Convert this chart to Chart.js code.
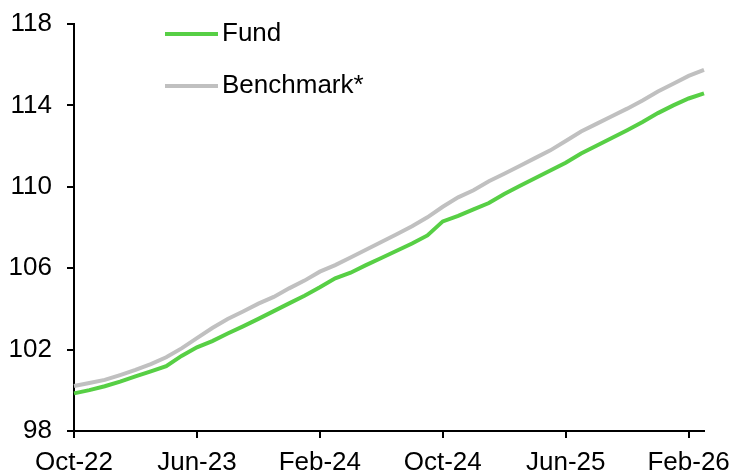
<!DOCTYPE html>
<html>
<head>
<meta charset="utf-8">
<script src="https://cdn.jsdelivr.net/npm/chart.js@4/dist/chart.umd.min.js"></script>
<style>
  body { margin: 0; background: #fff; }
  #wrap { width: 735px; height: 476px; }
</style>
</head>
<body>
<div id="wrap"><canvas id="perfChart" width="735" height="476"></canvas></div>
<script>
// monthly points, Oct-22 .. Mar-26
const months = [
  'Oct-22', 'Nov-22', 'Dec-22', 'Jan-23', 'Feb-23', 'Mar-23', 'Apr-23', 'May-23',
  'Jun-23', 'Jul-23', 'Aug-23', 'Sep-23', 'Oct-23', 'Nov-23', 'Dec-23', 'Jan-24',
  'Feb-24', 'Mar-24', 'Apr-24', 'May-24', 'Jun-24', 'Jul-24', 'Aug-24', 'Sep-24',
  'Oct-24', 'Nov-24', 'Dec-24', 'Jan-25', 'Feb-25', 'Mar-25', 'Apr-25', 'May-25',
  'Jun-25', 'Jul-25', 'Aug-25', 'Sep-25', 'Oct-25', 'Nov-25', 'Dec-25', 'Jan-26',
  'Feb-26', 'Mar-26',
];
const tickLabels = ['Oct-22', 'Jun-23', 'Feb-24', 'Oct-24', 'Jun-25', 'Feb-26'];

const fund = [
  99.85, 100.01, 100.20, 100.43, 100.68, 100.93, 101.19, 101.69,
  102.11, 102.42, 102.79, 103.14, 103.51, 103.89, 104.27, 104.65,
  105.06, 105.50, 105.78, 106.15, 106.50, 106.86, 107.21, 107.61,
  108.30, 108.57, 108.89, 109.20, 109.65, 110.04, 110.42, 110.80,
  111.18, 111.64, 112.02, 112.40, 112.78, 113.18, 113.62, 114.00,
  114.34, 114.59,
];
const benchmark = [
  100.21, 100.36, 100.51, 100.75, 101.00, 101.29, 101.62, 102.06,
  102.56, 103.06, 103.50, 103.87, 104.26, 104.59, 105.01, 105.39,
  105.83, 106.15, 106.53, 106.91, 107.29, 107.67, 108.06, 108.50,
  109.02, 109.48, 109.83, 110.27, 110.64, 111.02, 111.41, 111.79,
  112.25, 112.72, 113.09, 113.47, 113.84, 114.24, 114.68, 115.06,
  115.45, 115.74,
];

Chart.defaults.font.family = "'Liberation Sans', Arial, sans-serif";
Chart.defaults.font.size = 26;
Chart.defaults.color = '#000';

// legend drawn as a stacked list inside the plot, like the original
const stackedLegend = {
  id: 'stackedLegend',
  afterDraw(chart) {
    const ctx = chart.ctx;
    const rows = [34, 86];
    ctx.save();
    chart.data.datasets.forEach((ds, i) => {
      const y = rows[i];
      ctx.strokeStyle = ds.borderColor;
      ctx.lineWidth = 4;
      ctx.beginPath();
      ctx.moveTo(165, y);
      ctx.lineTo(218, y);
      ctx.stroke();
      ctx.fillStyle = '#000';
      ctx.font = "26px 'Liberation Sans', Arial, sans-serif";
      ctx.textBaseline = 'middle';
      ctx.fillText(ds.label, 222, y);
    });
    ctx.restore();
  },
};

const ctx = document.getElementById('perfChart').getContext('2d');
new Chart(ctx, {
  type: 'line',
  data: {
    labels: months,
    datasets: [
      {
        label: 'Fund',
        data: fund,
        borderColor: '#57cf45',
        borderWidth: 4,
        pointRadius: 0,
        tension: 0,
      },
      {
        label: 'Benchmark*',
        data: benchmark,
        borderColor: '#c0c0c0',
        borderWidth: 4,
        pointRadius: 0,
        tension: 0,
      },
    ],
  },
  options: {
    responsive: false,
    animation: false,
    layout: { padding: { top: 24, right: 31, left: 0, bottom: 0 } },
    plugins: {
      legend: { display: false },
      tooltip: { enabled: false },
    },
    scales: {
      x: {
        offset: false,
        afterFit: (s) => {
          s.height = 45;
          s.paddingLeft = 0;
          s.paddingRight = 0;
        },
        border: { color: '#000', width: 2 },
        grid: { drawOnChartArea: false, tickLength: 7, color: '#000', lineWidth: 2 },
        ticks: {
          autoSkip: false,
          maxRotation: 0,
          padding: 9,
          callback: function (val, i) {
            const name = months[i];
            return tickLabels.includes(name) ? name : null;
          },
        },
      },
      y: {
        min: 98,
        max: 118,
        afterFit: (s) => {
          s.width = 74;
          s.paddingTop = 0;
          s.paddingBottom = 0;
        },
        border: { color: '#000', width: 2 },
        grid: { drawOnChartArea: false, tickLength: 7, color: '#000', lineWidth: 2 },
        ticks: { stepSize: 4, padding: 15 },
      },
    },
  },
  plugins: [stackedLegend],
});
</script>
</body>
</html>
